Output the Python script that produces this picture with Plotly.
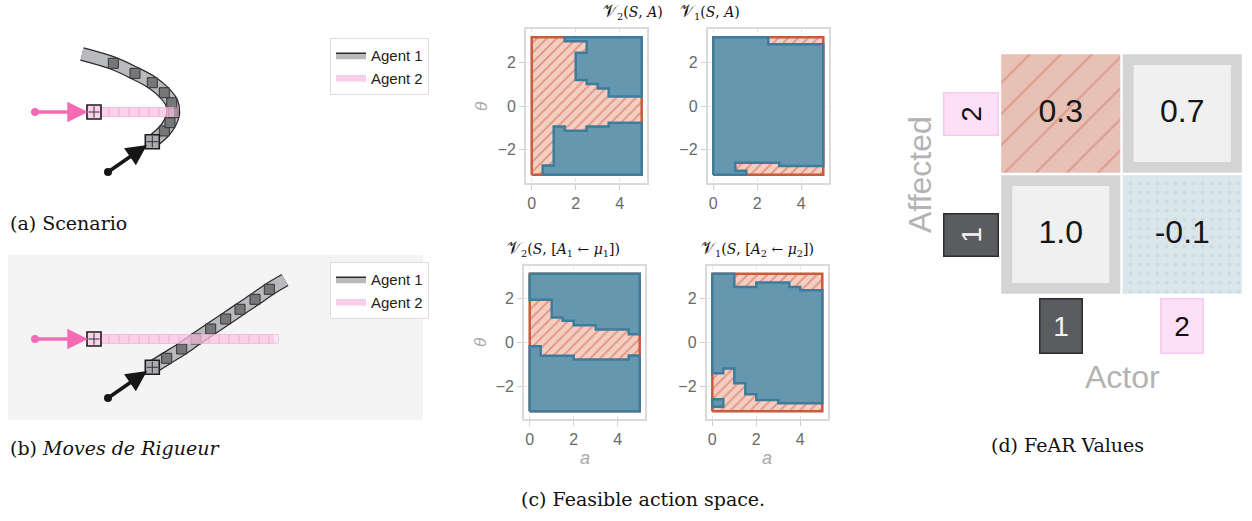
import plotly.graph_objects as go

W, H = 1252, 521
PI = 3.14159

# ---------------- (a) Scenario : trajectories (world units) ----------------
a1_scn_x = [5.83, 7.03, 7.60, 7.93, 7.77, 7.03, 5.83, 4.10, 1.93, -1.20]
a1_scn_y = [-2.97, -1.90, -1.07, -0.07, 0.93, 1.93, 2.93, 3.87, 4.87, 5.80]
a2_scn_x = [0, 1, 2, 3, 4, 5, 6, 7, 8]
a2_scn_y = [0, 0, 0, 0, 0, 0, 0, 0, 0]
a1_arrow_scn = [(1.4, -6.0), (5.3, -3.3)]          # tail, head

# ---------------- (b) Moves de Rigueur ----------------
a1_mdr_x = [5.83, 7.27, 8.77, 10.20, 11.67, 13.17, 14.60, 16.10, 17.53, 19.10]
a1_mdr_y = [-2.83, -1.93, -1.00, 0.00, 1.00, 2.00, 2.97, 3.97, 4.97, 5.90]
a2_mdr_x = [0, 1, 2, 3, 4, 5, 6, 7, 8, 9, 10, 11, 12, 13, 14, 15, 16, 17, 18]
a2_mdr_y = [0, 0, 0, 0, 0, 0, 0, 0, 0, 0, 0, 0, 0, 0, 0, 0, 0, 0, 0]
a1_arrow_mdr = [(1.4, -5.9), (5.3, -3.2)]
a2_arrow = [(-5.9, 0.0), (-0.6, 0.0)]
agent_names = ["Agent 1", "Agent 2"]

# ---------------- (c) Feasible action space (a, theta) ----------------
action_range = [0, 5]
theta_range = [-PI, PI]
v2_sa_blue_upper = [(1.5, PI), (5, PI), (5, 0.43), (3.5, 0.43), (3.5, 0.8), (3.0, 0.8), (3.0, 1.0),
                    (2.5, 1.0), (2.5, 1.19), (2.0, 1.19), (2.0, 2.43), (2.5, 2.43), (2.5, 2.95), (1.5, 2.95)]
v2_sa_blue_lower = [(0.5, -PI), (5, -PI), (5, -0.76), (3.5, -0.76), (3.5, -0.94), (2.5, -0.94),
                    (2.5, -1.13), (1.5, -1.13), (1.5, -0.94), (1.0, -0.94), (1.0, -2.72), (0.5, -2.72)]
v1_sa_blue = [(0, -PI), (1.5, -PI), (1.5, -2.95), (1.0, -2.95), (1.0, -2.59), (3.0, -2.59), (3.0, -2.74),
              (5, -2.74), (5, 2.82), (2.5, 2.82), (2.5, PI), (0, PI)]
v2_mu_blue_upper = [(0, PI), (5, PI), (5, 0.38), (4.5, 0.38), (4.5, 0.59), (3.0, 0.59), (3.0, 0.79),
                    (2.0, 0.79), (2.0, 0.99), (1.5, 0.99), (1.5, 1.14), (1.0, 1.14), (1.0, 1.96), (0, 1.96)]
v2_mu_blue_lower = [(0, -PI), (5, -PI), (5, -0.59), (4.5, -0.59), (4.5, -0.78), (2.0, -0.78),
                    (2.0, -0.61), (0.5, -0.61), (0.5, -0.17), (0, -0.17)]
v1_mu_blue_main = [(0, PI), (1.0, PI), (1.0, 2.54), (2.0, 2.54), (2.0, 2.74), (3.5, 2.74), (3.5, 2.54),
                   (4.0, 2.54), (4.0, 2.39), (5, 2.39), (5, -2.78), (3.0, -2.78), (3.0, -2.63), (2.0, -2.63),
                   (2.0, -2.37), (1.5, -2.37), (1.5, -1.87), (1.0, -1.87), (1.0, -1.19), (0.5, -1.19),
                   (0.5, -1.41), (0, -1.41)]
v1_mu_blue_corner = [(0, -2.94), (0.5, -2.94), (0.5, -2.60), (0, -2.60)]
subplot_titles = [
    "<span style='font-size:17px'>𝒱</span><sub>2</sub>(<i>S</i>, <i>A</i>)",
    "<span style='font-size:17px'>𝒱</span><sub>1</sub>(<i>S</i>, <i>A</i>)",
    "<span style='font-size:17px'>𝒱</span><sub>2</sub>(<i>S</i>, [<i>A</i><sub>1</sub> ← <i>μ</i><sub>1</sub>])",
    "<span style='font-size:17px'>𝒱</span><sub>1</sub>(<i>S</i>, [<i>A</i><sub>2</sub> ← <i>μ</i><sub>2</sub>])",
]

# ---------------- (d) FeAR values ----------------
actors = [1, 2]
affected = [1, 2]
fear_affected_1 = [1.0, -0.1]   # by actor 1, actor 2
fear_affected_2 = [0.3, 0.7]

# ---------------- styling ----------------
SANS = "Liberation Sans, Arial, sans-serif"
SERIF = "DejaVu Serif, serif"
A1_FILL, A1_EDGE, A1_SQ = "#b8babd", "#2b2b2b", "#75777b"
A2_FILL, A2_EDGE, A2_ARROW = "#fbd2ea", "#f5bfe0", "#f46ab3"
BLACK = "#161616"
BLUE, BLUE_EDGE = "#6597ae", "#3f7c9b"
RED_BG, RED_FG, RED_EDGE = "#f3cec2", "#d4583d", "#c95a3c"


def px(xp):
    return xp / W


def py(yp):
    return 1 - yp / H


fig = go.Figure()


def closed(vertices):
    xs = [v[0] for v in vertices] + [vertices[0][0]]
    ys = [v[1] for v in vertices] + [vertices[0][1]]
    return xs, ys


def note(xp, yp, text, size, color="#111", family=SERIF, angle=0, xanchor="center"):
    fig.add_annotation(x=px(xp), y=py(yp), xref="paper", yref="paper", text=text, showarrow=False,
                       xanchor=xanchor, yanchor="middle", textangle=angle,
                       font=dict(family=family, size=size, color=color))


# ---------------- panels (a) and (b) ----------------
def draw_scene(xa, ya, a1x, a1y, a2x, a2y, arr1, legend):
    fig.add_trace(go.Scatter(x=a1x, y=a1y, mode="lines", line=dict(color=A1_EDGE, width=14, shape="spline"),
                             xaxis=xa, yaxis=ya, showlegend=False, hoverinfo="skip"))
    fig.add_trace(go.Scatter(x=a1x, y=a1y, mode="lines", line=dict(color=A1_FILL, width=11.5, shape="spline"),
                             xaxis=xa, yaxis=ya, showlegend=False, hoverinfo="skip"))
    fig.add_trace(go.Scatter(x=a1x[1:-1], y=a1y[1:-1], mode="markers",
                             marker=dict(symbol="square", size=10, color=A1_SQ, line=dict(color="#333", width=1)),
                             xaxis=xa, yaxis=ya, showlegend=False, hoverinfo="skip"))
    fig.add_trace(go.Scatter(x=a2x, y=a2y, mode="lines+markers",
                             line=dict(color="rgba(249,185,222,0.6)", width=10),
                             marker=dict(symbol="square", size=9, color="rgba(251,205,232,0.35)",
                                         line=dict(color="rgba(240,165,210,0.45)", width=1)),
                             xaxis=xa, yaxis=ya, showlegend=False, hoverinfo="skip"))
    fig.add_trace(go.Scatter(x=[a1x[0], a2x[0]], y=[a1y[0], a2y[0]], mode="markers",
                             marker=dict(symbol="square", size=14, color=["#a9abae", A2_FILL],
                                         line=dict(color="#1c1c1c", width=1.6)),
                             xaxis=xa, yaxis=ya, showlegend=False, hoverinfo="skip"))
    fig.add_trace(go.Scatter(x=[a1x[0], a2x[0]], y=[a1y[0], a2y[0]], mode="markers",
                             marker=dict(symbol="cross-thin", size=8, line=dict(color="#333", width=1)),
                             xaxis=xa, yaxis=ya, showlegend=False, hoverinfo="skip"))
    fig.add_trace(go.Scatter(x=[arr1[0][0], a2_arrow[0][0]], y=[arr1[0][1], a2_arrow[0][1]], mode="markers",
                             marker=dict(symbol="circle", size=8, color=[BLACK, A2_ARROW]),
                             xaxis=xa, yaxis=ya, showlegend=False, hoverinfo="skip"))
    for (tail, head, col) in [(arr1[0], arr1[1], BLACK), (a2_arrow[0], a2_arrow[1], A2_ARROW)]:
        fig.add_annotation(x=head[0], y=head[1], ax=tail[0], ay=tail[1], xref=xa, yref=ya,
                           axref=xa, ayref=ya, showarrow=True, arrowhead=2, arrowsize=1.15,
                           arrowwidth=3.6, arrowcolor=col, text="")
    fig.add_trace(go.Scatter(x=[None], y=[None], mode="lines", fill="toself", fillcolor=A1_FILL,
                             line=dict(color=A1_EDGE, width=1.5), name=agent_names[0],
                             xaxis=xa, yaxis=ya, legend=legend))
    fig.add_trace(go.Scatter(x=[None], y=[None], mode="lines", fill="toself", fillcolor=A2_FILL,
                             line=dict(color=A2_EDGE, width=1), name=agent_names[1],
                             fillpattern=dict(shape=".", bgcolor=A2_FILL, fgcolor="#f3b6da", size=3, solidity=0.3),
                             xaxis=xa, yaxis=ya, legend=legend))


draw_scene("x", "y", a1_scn_x, a1_scn_y, a2_scn_x, a2_scn_y, a1_arrow_scn, "legend")
draw_scene("x2", "y2", a1_mdr_x, a1_mdr_y, a2_mdr_x, a2_mdr_y, a1_arrow_mdr, "legend2")

hidden = dict(visible=False, showgrid=False, zeroline=False, fixedrange=True)
fig.update_layout(
    xaxis=dict(domain=[px(10), px(310)], range=[-8.4, 21.6], anchor="y", **hidden),
    yaxis=dict(domain=[py(200), py(30)], range=[-8.8, 8.2], anchor="x", **hidden),
    xaxis2=dict(domain=[px(8), px(423)], range=[-8.6, 32.9], anchor="y2", **hidden),
    yaxis2=dict(domain=[py(420), py(255)], range=[-8.1, 8.4], anchor="x2", **hidden),
)
fig.add_shape(type="rect", xref="paper", yref="paper", x0=px(8), x1=px(423), y0=py(420), y1=py(255),
              fillcolor="#f4f4f4", line=dict(width=0), layer="below")

# ---------------- panel (c) ----------------
c_panels = [
    (3, [v2_sa_blue_upper, v2_sa_blue_lower], (526.2, 647.2), (29.3, 182.7)),
    (4, [v1_sa_blue], (707.8, 828.8), (29.3, 182.7)),
    (5, [v2_mu_blue_upper, v2_mu_blue_lower], (524.2, 645.2), (266.0, 419.0)),
    (6, [v1_mu_blue_main, v1_mu_blue_corner], (706.8, 827.8), (266.0, 419.0)),
]
for k, blues, (x0, x1), (y0, y1) in c_panels:
    xa, ya = f"x{k}", f"y{k}"
    rx, ry = closed([(action_range[0], theta_range[0]), (action_range[1], theta_range[0]),
                     (action_range[1], theta_range[1]), (action_range[0], theta_range[1])])
    fig.add_trace(go.Scatter(x=rx, y=ry, mode="lines", fill="toself", fillcolor=RED_BG,
                             fillpattern=dict(shape="/", bgcolor=RED_BG, fgcolor=RED_FG, size=7, solidity=0.26),
                             line=dict(color=RED_EDGE, width=2.5), xaxis=xa, yaxis=ya,
                             showlegend=False, hoverinfo="skip"))
    for poly in blues:
        bx, by = closed(poly)
        fig.add_trace(go.Scatter(x=bx, y=by, mode="lines", fill="toself", fillcolor=BLUE,
                                 line=dict(color=BLUE_EDGE, width=2.5), xaxis=xa, yaxis=ya,
                                 showlegend=False, hoverinfo="skip"))
    common = dict(showline=True, mirror=True, linecolor="#dadada", linewidth=2, showgrid=True,
                  gridcolor="#e3e3e3", griddash="dot", gridwidth=1, zeroline=False, ticks="outside",
                  ticklen=5, tickcolor="#cfcfcf", tickfont=dict(family=SANS, size=16, color="#6a6a6a"),
                  fixedrange=True)
    fig.layout[f"xaxis{k}"] = dict(domain=[px(x0), px(x1)], range=[-0.25, 5.25], anchor=ya,
                                   tickvals=[0, 2, 4], **common)
    fig.layout[f"yaxis{k}"] = dict(domain=[py(y1), py(y0)], range=[-3.5, 3.5], anchor=xa,
                                   tickvals=[-2, 0, 2], ticktext=["−2", "0", "2"], **common)

title_pos = [(633, 12), (710, 12), (563, 248), (757, 248)]
for t, (tx, ty) in zip(subplot_titles, title_pos):
    note(tx, ty, t, 14)
for (tx, ty) in [(482, 106), (480, 342)]:
    note(tx, ty, "<i>θ</i>", 17, "#a8a8a8", SANS, -90)
for tx in [585, 767]:
    note(tx, 458, "<i>a</i>", 18, "#a8a8a8", SANS)

# ---------------- panel (d) ----------------
fear_rows = [fear_affected_1, fear_affected_2]
half, inner = 0.49, 0.40


def cell(act, aff, h):
    return closed([(act - h, aff - h), (act + h, aff - h), (act + h, aff + h), (act - h, aff + h)])


for j, aff in enumerate(affected):
    for i, act in enumerate(actors):
        val = fear_rows[j][i]
        ox, oy = cell(act, aff, half)
        if act == aff:
            fig.add_trace(go.Scatter(x=ox, y=oy, mode="lines", fill="toself", fillcolor="#d4d4d4",
                                     line=dict(width=0), xaxis="x7", yaxis="y7", showlegend=False,
                                     hoverinfo="skip"))
            ix, iy = cell(act, aff, inner)
            fig.add_trace(go.Scatter(x=ix, y=iy, mode="lines", fill="toself", fillcolor="#f0f0f0",
                                     line=dict(width=0), xaxis="x7", yaxis="y7", showlegend=False,
                                     hoverinfo="skip"))
        elif val > 0:
            fig.add_trace(go.Scatter(x=ox, y=oy, mode="lines", fill="toself", fillcolor="#e7c0b6",
                                     fillpattern=dict(shape="/", bgcolor="#e7c0b6", fgcolor="#d5795f",
                                                      size=22, solidity=0.1),
                                     line=dict(width=0), xaxis="x7", yaxis="y7", showlegend=False,
                                     hoverinfo="skip"))
        else:
            fig.add_trace(go.Scatter(x=ox, y=oy, mode="lines", fill="toself", fillcolor="#dbe6eb",
                                     fillpattern=dict(shape=".", bgcolor="#dbe6eb", fgcolor="#bcd1dc",
                                                      size=9, solidity=0.15),
                                     line=dict(width=0), xaxis="x7", yaxis="y7", showlegend=False,
                                     hoverinfo="skip"))
cx, cy, ct = [], [], []
for j, aff in enumerate(affected):
    for i, act in enumerate(actors):
        cx.append(act)
        cy.append(aff)
        ct.append(f"{fear_rows[j][i]:.1f}")
fig.add_trace(go.Scatter(x=cx, y=cy, text=ct, mode="text", textposition="middle center",
                         textfont=dict(family=SANS, size=32, color="#161616"), xaxis="x7", yaxis="y7",
                         showlegend=False, hoverinfo="skip"))
fig.update_layout(
    xaxis7=dict(domain=[px(1000), px(1243)], range=[0.5, 2.5], anchor="y7", **hidden),
    yaxis7=dict(domain=[py(295), py(53)], range=[0.5, 2.5], anchor="x7", **hidden),
)
box_style = {1: dict(bgcolor="#5b5c5f", bordercolor="#2d2d2d", color="#f4f4f4"),
             2: dict(bgcolor="#fde0f7", bordercolor="#f6c9ee", color="#111111")}
for act in actors:
    s = box_style[act]
    fig.add_annotation(x=act, xref="x7", y=py(325.5), yref="paper", text=str(act), showarrow=False,
                       xanchor="center", yanchor="middle",
                       width=41, height=53, borderpad=0, borderwidth=1.5, bgcolor=s["bgcolor"],
                       bordercolor=s["bordercolor"], font=dict(family=SANS, size=28, color=s["color"]))
for aff in affected:
    s = box_style[aff]
    fig.add_annotation(x=px(970.5), xref="paper", y=aff, yref="y7", text=str(aff), showarrow=False,
                       xanchor="center", yanchor="middle",
                       textangle=-90, width=41, height=53, borderpad=0, borderwidth=1.5,
                       bgcolor=s["bgcolor"], bordercolor=s["bordercolor"],
                       font=dict(family=SANS, size=28, color=s["color"]))
note(1122, 377, "Actor", 32, "#b3b3b3", SANS)
note(920, 175, "Affected", 32, "#b3b3b3", SANS, -90)

# ---------------- captions ----------------
note(8, 223, "(a) Scenario", 19, xanchor="left")
note(8, 448, "(b) <i>Moves de Rigueur</i>", 19, xanchor="left")
note(643, 499, "(c) Feasible action space.", 19)
note(1067, 445, "(d) FeAR Values", 19)

legend_style = dict(xanchor="left", yanchor="top", bgcolor="white", bordercolor="#dddddd", borderwidth=1,
                    font=dict(family=SANS, size=15, color="#222"), tracegroupgap=0, itemwidth=30)
fig.update_layout(
    width=W, height=H, margin=dict(l=0, r=0, t=0, b=0), paper_bgcolor="white",
    plot_bgcolor="rgba(0,0,0,0)",
    legend=dict(x=px(330), y=py(38), **legend_style),
    legend2=dict(x=px(330), y=py(262), **legend_style),
)

fig.write_html("out.html", config={"displayModeBar": False},
               post_script="document.body.style.margin='0px';document.body.style.overflow='hidden';")
